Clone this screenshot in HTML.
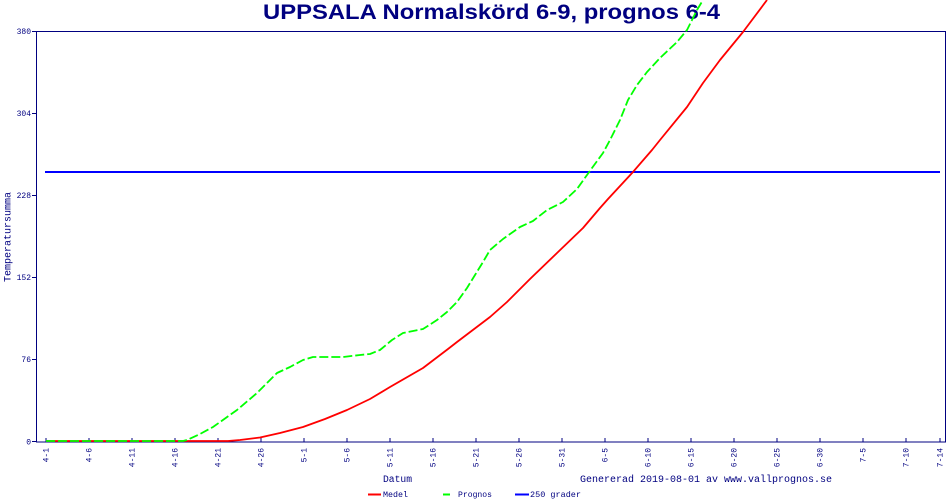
<!DOCTYPE html>
<html>
<head>
<meta charset="utf-8">
<style>
html,body{margin:0;padding:0;background:#fff;}
svg{display:block;}
text{fill:#000080;}
.mono{font-family:"Liberation Mono","DejaVu Sans Mono",monospace;}
</style>
</head>
<body>
<svg width="950" height="500" viewBox="0 0 950 500" xmlns="http://www.w3.org/2000/svg">
  <rect x="0" y="0" width="950" height="500" fill="#fff"/>
  <!-- title -->
  <text x="263" y="19" font-family="Liberation Sans, Arial, sans-serif" font-weight="bold" font-size="21" textLength="457" lengthAdjust="spacingAndGlyphs">UPPSALA Normalskörd 6-9, prognos 6-4</text>

  <!-- frame -->
  <rect x="36.5" y="31.5" width="909" height="410.5" fill="none" stroke="#000080" stroke-width="1"/>

  <!-- y ticks -->
  <g stroke="#000080" stroke-width="1">
    <line x1="32" y1="31.5" x2="36" y2="31.5"/>
    <line x1="32" y1="113.5" x2="36" y2="113.5"/>
    <line x1="32" y1="195.5" x2="36" y2="195.5"/>
    <line x1="32" y1="277.5" x2="36" y2="277.5"/>
    <line x1="32" y1="359.5" x2="36" y2="359.5"/>
    <line x1="32" y1="441.5" x2="36" y2="441.5"/>
  </g>
  <g class="mono" font-size="8" text-anchor="end">
    <text x="31" y="34">380</text>
    <text x="31" y="116">304</text>
    <text x="31" y="198">228</text>
    <text x="31" y="280">152</text>
    <text x="31" y="362">76</text>
    <text x="31" y="444.5">0</text>
  </g>

  <!-- x ticks -->
  <g stroke="#000080" stroke-width="1">
    <line x1="46" y1="438" x2="46" y2="442"/>
    <line x1="89" y1="438" x2="89" y2="442"/>
    <line x1="132" y1="438" x2="132" y2="442"/>
    <line x1="175" y1="438" x2="175" y2="442"/>
    <line x1="218" y1="438" x2="218" y2="442"/>
    <line x1="261" y1="438" x2="261" y2="442"/>
    <line x1="304" y1="438" x2="304" y2="442"/>
    <line x1="347" y1="438" x2="347" y2="442"/>
    <line x1="390" y1="438" x2="390" y2="442"/>
    <line x1="433" y1="438" x2="433" y2="442"/>
    <line x1="476" y1="438" x2="476" y2="442"/>
    <line x1="519" y1="438" x2="519" y2="442"/>
    <line x1="562" y1="438" x2="562" y2="442"/>
    <line x1="605" y1="438" x2="605" y2="442"/>
    <line x1="648" y1="438" x2="648" y2="442"/>
    <line x1="691" y1="438" x2="691" y2="442"/>
    <line x1="734" y1="438" x2="734" y2="442"/>
    <line x1="777" y1="438" x2="777" y2="442"/>
    <line x1="820" y1="438" x2="820" y2="442"/>
    <line x1="863" y1="438" x2="863" y2="442"/>
    <line x1="906" y1="438" x2="906" y2="442"/>
    <line x1="940" y1="438" x2="940" y2="442"/>
  </g>
  <g class="mono" font-size="8" text-anchor="end">
    <text transform="translate(48.5,448) rotate(-90)">4-1</text>
    <text transform="translate(91.5,448) rotate(-90)">4-6</text>
    <text transform="translate(134.5,448) rotate(-90)">4-11</text>
    <text transform="translate(177.5,448) rotate(-90)">4-16</text>
    <text transform="translate(220.5,448) rotate(-90)">4-21</text>
    <text transform="translate(263.5,448) rotate(-90)">4-26</text>
    <text transform="translate(306.5,448) rotate(-90)">5-1</text>
    <text transform="translate(349.5,448) rotate(-90)">5-6</text>
    <text transform="translate(392.5,448) rotate(-90)">5-11</text>
    <text transform="translate(435.5,448) rotate(-90)">5-16</text>
    <text transform="translate(478.5,448) rotate(-90)">5-21</text>
    <text transform="translate(521.5,448) rotate(-90)">5-26</text>
    <text transform="translate(564.5,448) rotate(-90)">5-31</text>
    <text transform="translate(607.5,448) rotate(-90)">6-5</text>
    <text transform="translate(650.5,448) rotate(-90)">6-10</text>
    <text transform="translate(693.5,448) rotate(-90)">6-15</text>
    <text transform="translate(736.5,448) rotate(-90)">6-20</text>
    <text transform="translate(779.5,448) rotate(-90)">6-25</text>
    <text transform="translate(822.5,448) rotate(-90)">6-30</text>
    <text transform="translate(865.5,448) rotate(-90)">7-5</text>
    <text transform="translate(908.5,448) rotate(-90)">7-10</text>
    <text transform="translate(942.5,448) rotate(-90)">7-14</text>
  </g>

  <!-- axis titles -->
  <text class="mono" font-size="10" text-anchor="middle" transform="translate(10.5,237) rotate(-90)" textLength="90" lengthAdjust="spacingAndGlyphs">Temperatursumma</text>
  <text class="mono" x="383" y="482" font-size="10" textLength="29" lengthAdjust="spacingAndGlyphs">Datum</text>
  <text class="mono" x="580" y="482" font-size="10" textLength="252" lengthAdjust="spacingAndGlyphs">Genererad 2019-08-01 av www.vallprognos.se</text>

  <!-- 250 line -->
  <line x1="45" y1="172" x2="940" y2="172" stroke="#0000ff" stroke-width="2"/>

  <!-- Medel (red) -->
  <polyline fill="none" stroke="#ff0000" stroke-width="1.8" stroke-linejoin="round"
    points="46,441 190,441 228,441 240,440 260,437.5 280,433 303,427 325,419 347,410 370,399 390,387 423,368 448,349 457,342 490,317 507,302 530,279 557,253 583,228 600,208 608,199 633,172 652,150 660,140 687,107 703,83 720,60 743,32 767,0"/>

  <!-- Prognos (green, dashed) -->
  <polyline fill="none" stroke="#00ff00" stroke-width="1.8" stroke-dasharray="9 3" stroke-linejoin="round"
    points="46,441 183,441 187,440 200,434 213,427 237,410 257,393 277,373 290,367 303,360 313,357 343,357 360,355 370,354 380,350 392,340 403,333 423,329 437,320 447,312 457,302 467,288 475,275 483,262 490,250 503,239 520,227 533,221 547,210 563,202 577,189 592,168 603,153 610,140 620,120 628,100 637,85 647,72 660,58 677,42 687,30 697,10 703,0"/>

  <!-- legend -->
  <line x1="368" y1="494.5" x2="381" y2="494.5" stroke="#ff0000" stroke-width="2"/>
  <text class="mono" x="383" y="497" font-size="8.5" textLength="25" lengthAdjust="spacingAndGlyphs">Medel</text>
  <line x1="443" y1="494.5" x2="450" y2="494.5" stroke="#00ff00" stroke-width="2"/>
  <text class="mono" x="458" y="497" font-size="8.5" textLength="34" lengthAdjust="spacingAndGlyphs">Prognos</text>
  <line x1="515" y1="494.5" x2="529" y2="494.5" stroke="#0000ff" stroke-width="2"/>
  <text class="mono" x="530" y="497" font-size="8.5" textLength="51" lengthAdjust="spacingAndGlyphs">250 grader</text>
</svg>
</body>
</html>
